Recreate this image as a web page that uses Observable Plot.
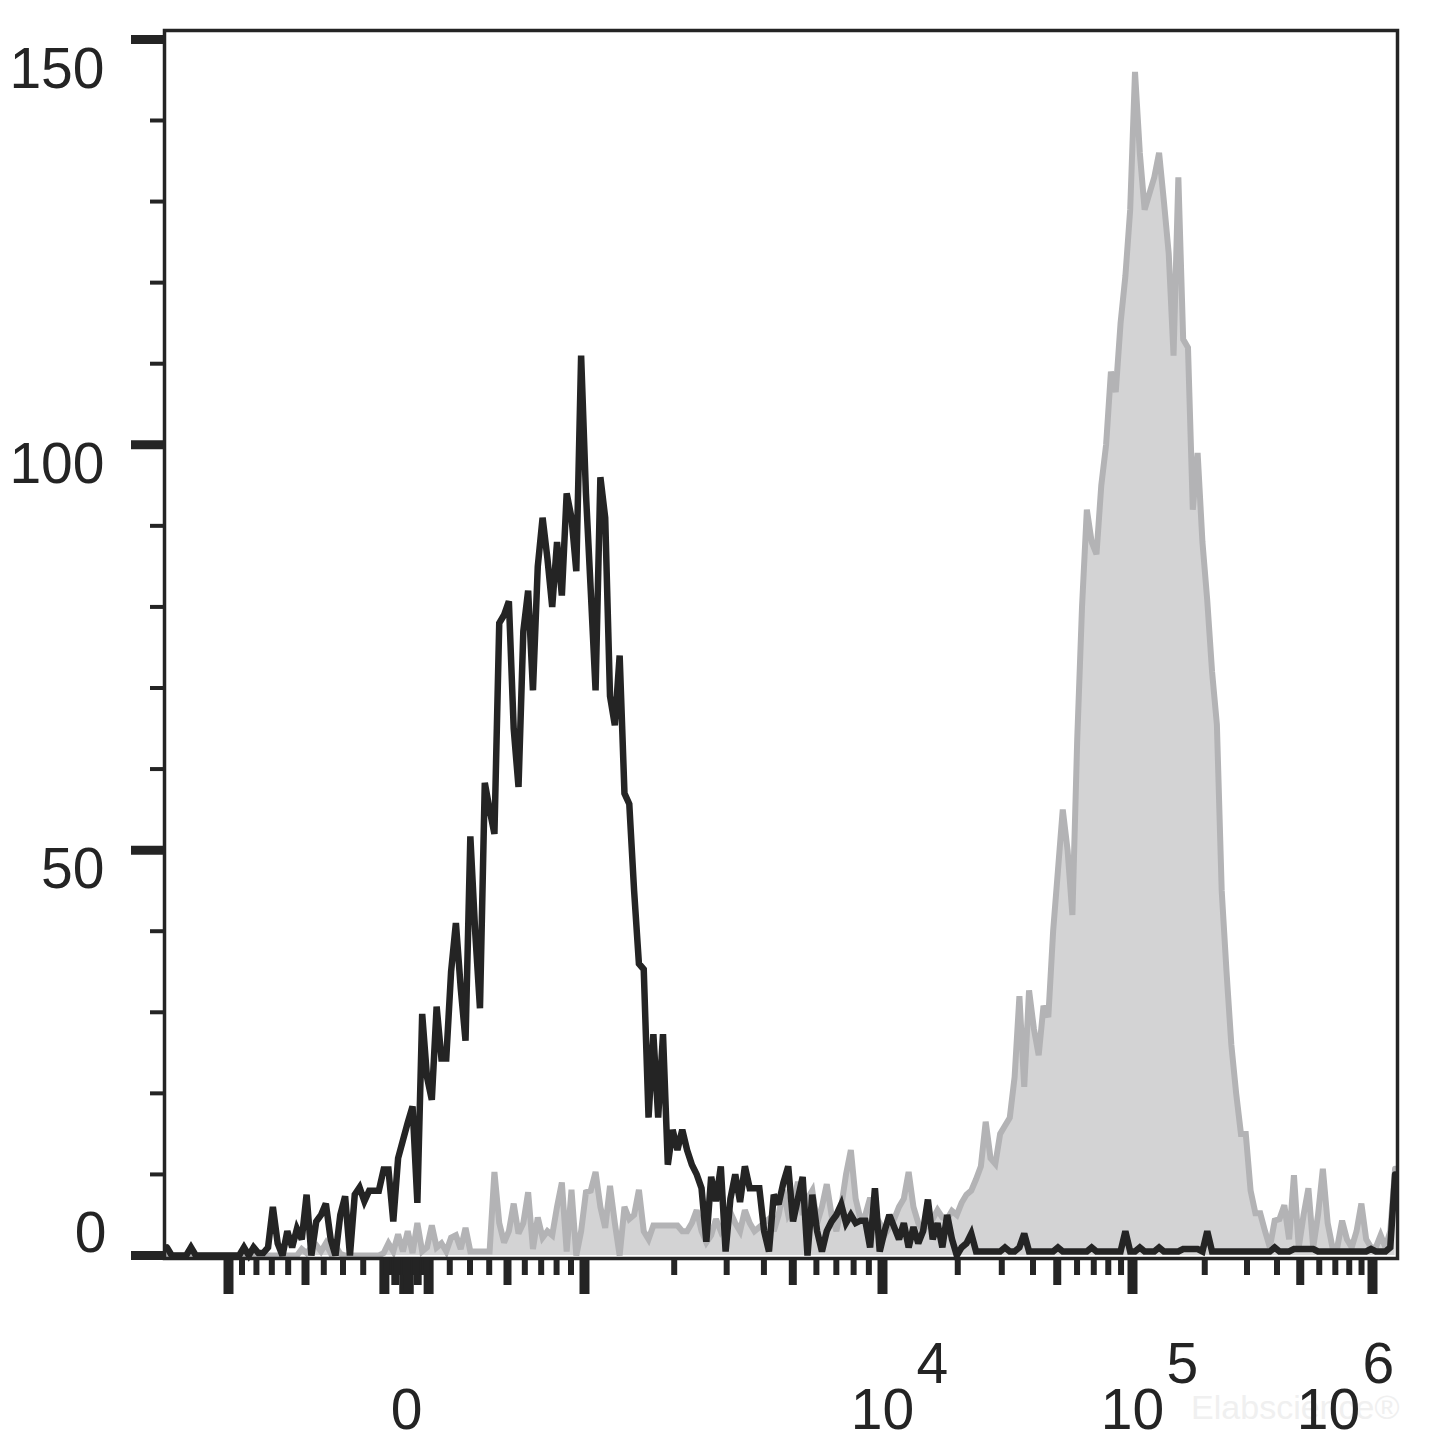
<!DOCTYPE html>
<html>
<head>
<meta charset="utf-8">
<script src="https://cdn.jsdelivr.net/npm/d3@7"></script>
<script src="https://cdn.jsdelivr.net/npm/@observablehq/plot@0.6"></script>
<style>
  html, body { margin: 0; padding: 0; background: #ffffff; }
  #chart svg { display: block; }
</style>
</head>
<body>
<div id="chart"></div>
<script>
// ---------------- data (256 display channels, counts per channel) ----------------
const blackCounts = [
  1,0,0,0,0,1,0,0,0,0,
  0,0,0,0,0,0,1,0,1,0.3,
  0.3,1,6,1.5,0,3,1,3.3,2,7.5,
  0,4.2,5,6.4,2,0,5,7.3,0,7.5,
  8.4,6.7,8,8,8,10.6,10.6,4.2,12,14.2,
  16.4,18.4,6.5,29.8,22,19.2,30.7,24.3,24.3,35,
  41,33,26.5,51.7,40,30.5,58.3,55,52,78,
  79,80.7,65,57.8,77,82,69.7,85,91,86,
  80,88,81.4,94,91,84.4,111,94,82,69.7,
  96,91,69,65.4,74,57,55.7,45,36,35.3,
  17,27.3,17,27.3,11.2,15.5,13,15.5,13,11.2,
  10,8.3,1.7,9.7,6.7,11,0.5,7,10,6.6,
  11,8.3,8.3,8.3,3,0.5,7.5,6.3,9,11,
  4.2,7,9.7,0,7.5,3,0.5,3,4.2,5,
  6.3,4,5,4,4.3,4.3,1,8.3,0.5,3,
  5,3.5,2,4,1,3.5,1.5,3,6.9,2,
  4,1,5,2,0,1,1.5,2.7,0.5,0.5,
  0.5,0.5,0.5,0.5,1,0.5,0.5,1,2.7,0.5,
  0.5,0.5,0.5,0.5,0.5,1,0.5,0.5,0.5,0.5,
  0.5,0.5,1,0.5,0.5,0.5,0.5,0.5,0.5,3,
  0.5,0.5,1,0.5,0.5,0.5,1,0.5,0.5,0.5,
  0.5,0.8,0.8,0.8,0.8,0.5,3,0.5,0.5,0.5,
  0.5,0.5,0.5,0.5,0.5,0.5,0.5,0.5,0.5,0.5,
  1,0.5,0.5,0.5,0.8,0.8,0.8,0.8,0.8,0.5,
  0.5,0.5,0.5,0.5,0.5,0.5,0.5,0.5,0.5,0.5,
  0.8,0.5,0.5,0.5,1,10
];
const grayCounts = [
  0,0,0,0,0,0,0,0,0,0,
  0,0,0,0,0,0,0,0,0,0,
  0,0,0,0,0,0,0,0,0.8,0.3,
  1,1.3,0.5,1.5,0.3,1.2,0.2,0,0,0,
  0,0,0,0,0,0.3,1.5,0.5,2.6,0.5,
  3,0.3,4,0.5,1,3.7,1,1.5,0.5,2.2,
  2.5,0.8,3.4,0.5,0.5,0.5,0.5,0.5,10.3,4,
  1.6,3,6.4,2.7,4,7.8,0.8,4.7,2.2,3,
  2.5,6,9,0.5,8.1,0,3,7.8,8,10.3,
  6,3.4,8.6,4,0,6,4.5,5,8.1,3,
  2,3.7,3.7,3.7,3.7,3.7,3.7,3,3,4,
  5.6,3,1.6,2.5,4.5,3,4,5.3,4,3,
  5.6,4,3,3.5,4,4.5,3,5,8.1,5,
  6,9.1,5,7,8,4,6,8.8,5,3,
  6,10,13,7,4.5,5,7.1,5,4,2.5,
  3.5,4.5,6,7,10.3,6,4,3,4,4.5,
  5.6,4.7,4.5,5.5,5,6.5,7.5,8,9.4,11,
  16.5,12,11.3,15,16,17,22,32,20.8,32.7,
  28,24.7,30.8,29.4,40,47.5,55,50,42,63.6,
  80,92,88,86.5,95,100,109,106.5,115,120.8,
  129,146,136,129,131,133,136,130,123.6,111,
  133,113,112,92,99,88,80.8,72,65.5,45,
  35,26,20,15,15,8,5.2,5.2,3,1,
  4.3,4.5,6.2,2,9.9,1,5,8.3,1,5,
  10.7,4,1,1,4.3,2,1,3,6.4,2,
  1,1,2.5,1,3,10.7
];

// y axis ticks
const yMajorTicks = [0, 50, 100, 150];
const yMinorTicks = [10, 20, 30, 40, 60, 70, 80, 90, 110, 120, 130, 140];

// x axis (biexponential) ticks
const xMajorTicks = [-1000, -100, -10, 0, 10, 100, 1000, 1e4, 1e5, 1e6];
const xMediumTicks = [-500, -50, 50, 500, 5000, 5e4, 5e5];
const xMinorMultipliers = [2, 3, 4, 6, 7, 8, 9];
const xMinorDecades = [10, 100, 1000, 1e4, 1e5];

// x axis labels
const xLabelValues = [0, 1e4, 1e5, 1e6];
const xLabelBase = ["0", "10", "10", "10"];
const xLabelExp = ["", "4", "5", "6"];

// ---------------- biexponential display transform ----------------
const LIN_A = 0.226, LIN_B = -4.8e-5;          // near-zero (|v| <= 1000) shape
const DECADE_WIDTHS = [298, 250, 240];           // widths of decades 10^3..10^6
const DISPLAY_MIN = -242, DISPLAY_MAX = 991, CHANNELS = 256;

function biex(v) {
  const a = Math.abs(v), s = Math.sign(v);
  let p;
  if (a <= 1000) {
    p = LIN_A * a + LIN_B * a * a;
  } else {
    const L = Math.log10(a);
    let pos = LIN_A * 1000 + LIN_B * 1e6, k = 3;
    while (L > k + 1 && k < 5) { pos += DECADE_WIDTHS[k - 3]; k++; }
    p = pos + DECADE_WIDTHS[k - 3] * (L - k);
  }
  return s * p;
}
function toChannel(v) {
  return (biex(v) - DISPLAY_MIN) / (DISPLAY_MAX - DISPLAY_MIN) * CHANNELS;
}
const inRange = c => c >= 0 && c <= CHANNELS;

const minorVals = [];
for (const d of xMinorDecades) for (const m of xMinorMultipliers) { minorVals.push(m * d); minorVals.push(-m * d); }
const majorCh = xMajorTicks.map(toChannel).filter(inRange);
const mediumCh = xMediumTicks.map(toChannel).filter(inRange);
const minorCh = minorVals.map(toChannel).filter(inRange);

const ink = "#242424";
const font = "'Liberation Sans', Arial, Helvetica, sans-serif";
const xi = (d, i) => i + 0.5;

const chart = Plot.plot({
  width: 1445,
  height: 1444,
  marginLeft: 164,
  marginRight: 48,
  marginTop: 30,
  marginBottom: 186,
  style: { fontFamily: font, color: ink, background: "#ffffff" },
  x: { domain: [0, CHANNELS], axis: null, label: null },
  y: { domain: [-0.37, 151.1], axis: null, label: null },
  marks: [
    Plot.areaY(grayCounts, { x: xi, y: d => d, fill: "#d3d3d4" }),
    Plot.lineY(grayCounts, { x: xi, y: d => d, stroke: "#b3b3b5", strokeWidth: 6, strokeLinejoin: "miter", strokeMiterlimit: 3 }),
    Plot.lineY(blackCounts, { x: xi, y: d => d, stroke: ink, strokeWidth: 6.5, strokeLinejoin: "miter", strokeMiterlimit: 3 }),
    Plot.frame({ stroke: ink, strokeWidth: 3.5 }),
    // y ticks
    Plot.axisY(yMajorTicks, { anchor: "left", tickSize: 33, strokeWidth: 9, stroke: ink, fill: "none", label: null }),
    Plot.axisY(yMinorTicks, { anchor: "left", tickSize: 14, strokeWidth: 4, stroke: ink, fill: "none", label: null }),
    // y labels
    Plot.axisY([150], { anchor: "left", tickSize: 0, tickPadding: 60, fontSize: 57, dy: 30, fill: ink, label: null }),
    Plot.axisY([50, 100], { anchor: "left", tickSize: 0, tickPadding: 60, fontSize: 57, dy: 20, fill: ink, label: null }),
    Plot.axisY([0], { anchor: "left", tickSize: 0, tickPadding: 58, fontSize: 57, dy: -22, fill: ink, label: null }),
    // x ticks
    Plot.axisX(majorCh, { anchor: "bottom", tickSize: 36, strokeWidth: 10, stroke: ink, fill: "none", label: null }),
    Plot.axisX(mediumCh, { anchor: "bottom", tickSize: 27, strokeWidth: 8, stroke: ink, fill: "none", label: null }),
    Plot.axisX(minorCh, { anchor: "bottom", tickSize: 17, strokeWidth: 6, stroke: ink, fill: "none", label: null }),
    // watermark (faint, behind the labels)
    Plot.text(["Elabscience®"], { frameAnchor: "bottom-right", textAnchor: "end", lineAnchor: "middle", dx: 2, dy: 150, fontSize: 34, fill: "#f0f0f0" }),
    // x labels
    Plot.text(xLabelValues.slice(0, 3), { x: v => toChannel(v), text: (d, i) => xLabelBase[i], frameAnchor: "bottom", lineAnchor: "middle", textAnchor: "middle", dy: 152, fontSize: 57, fill: ink }),
    Plot.text(xLabelValues.slice(3), { x: v => toChannel(v), text: (d, i) => xLabelBase[3 + i], frameAnchor: "bottom", lineAnchor: "middle", textAnchor: "middle", dx: -44, dy: 152, fontSize: 57, fill: ink }),
    Plot.text(xLabelValues.slice(1, 3), { x: v => toChannel(v), text: (d, i) => xLabelExp[1 + i], frameAnchor: "bottom", lineAnchor: "middle", textAnchor: "start", dx: 34, dy: 106, fontSize: 57, fill: ink }),
    Plot.text(xLabelValues.slice(3), { x: v => toChannel(v), text: (d, i) => xLabelExp[3 + i], frameAnchor: "bottom", lineAnchor: "middle", textAnchor: "start", dx: -10, dy: 106, fontSize: 57, fill: ink })
  ]
});
document.getElementById("chart").appendChild(chart);
</script>
</body>
</html>
